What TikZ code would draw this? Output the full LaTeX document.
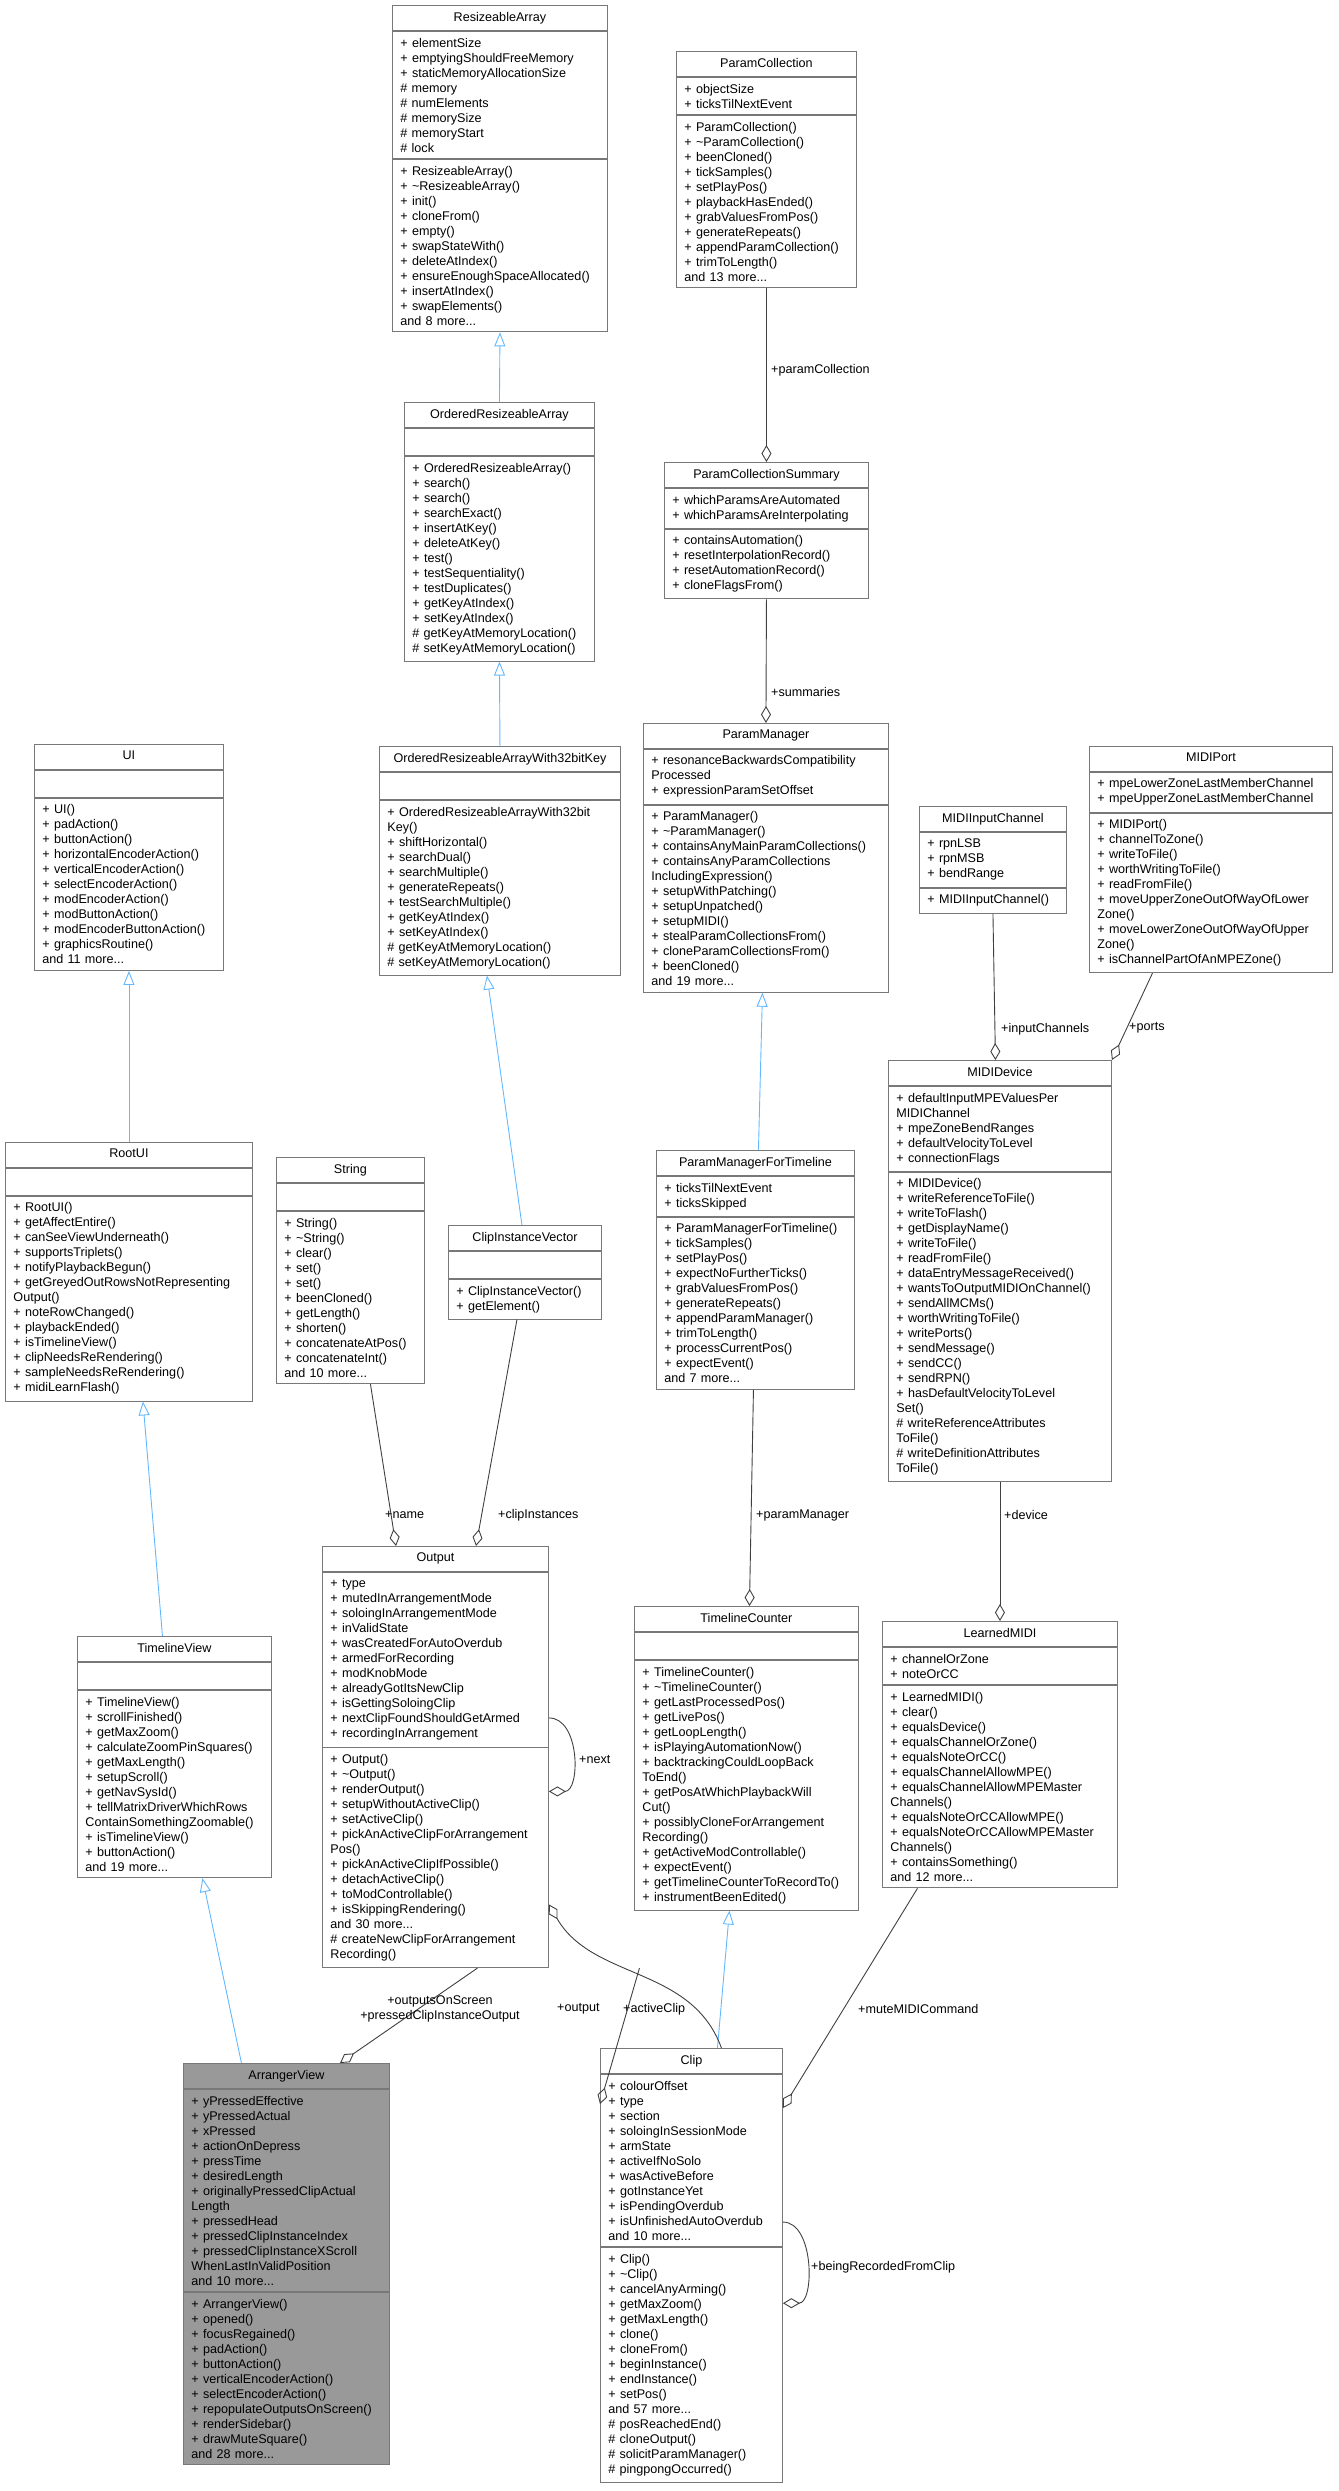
\documentclass[tikz,border=0pt]{standalone}
\usepackage{fontspec}
\setmainfont{Liberation Sans}
\usetikzlibrary{arrows.meta,positioning}

\hyphenpenalty=10000
\exhyphenpenalty=10000

\definecolor{boxline}{RGB}{120,120,120}
\definecolor{edgeline}{RGB}{64,64,64}
\definecolor{inhblue}{RGB}{99,184,255}
\definecolor{focusgray}{RGB}{153,153,153}

\newcommand{\tl}{\textasciitilde}
\newcommand{\none}{\rule{0pt}{11pt}}

% class box: [fill]{name}{left}{top}{width}{title}{attributes}{methods}
\newcommand{\umlclass}[8][white]{%
  \pgfmathsetmacro\tw{#5-16}%
  \node[clsbox,fill=#1,text width=\tw pt,align=center,anchor=north west] (#2) at (#3,#4) {\rule[-3pt]{0pt}{12pt}#6};
  \node[clsbox,fill=#1,text width=\tw pt,align=left,anchor=north] (#2-a) at (#2.south) {\rule[-3pt]{0pt}{12pt}#7};
  \node[clsbox,fill=#1,text width=\tw pt,align=left,anchor=north] (#2-m) at (#2-a.south) {\rule[-3pt]{0pt}{12pt}#8};
}

\tikzset{
  clsbox/.style={draw=boxline,line width=0.9pt,inner xsep=8pt,inner ysep=6.5pt,
    font=\fontsize{12.6}{15}\selectfont},
  inh/.style={draw=inhblue,line width=0.9pt,-{Triangle[open,length=14pt,width=11pt]}},
  agg/.style={draw=edgeline,line width=0.9pt,-{Diamond[open,length=17pt,width=10pt]}},
  elabel/.style={font=\fontsize{12.6}{15}\selectfont,inner sep=1pt,align=center}
}

\begin{document}
\begin{tikzpicture}[x=1pt,y=-1pt]
\useasboundingbox (0,0) rectangle (1338,2491);

% classes
\umlclass{ra}{392}{5}{215}{ResizeableArray}
  {+ elementSize\\+ emptyingShouldFreeMemory\\+ staticMemoryAllocationSize\\\# memory\\\# numElements\\\# memorySize\\\# memoryStart\\\# lock}
  {+ ResizeableArray()\\+ \tl ResizeableArray()\\+ init()\\+ cloneFrom()\\+ empty()\\+ swapStateWith()\\+ deleteAtIndex()\\+ ensureEnoughSpaceAllocated()\\+ insertAtIndex()\\+ swapElements()\\and 8 more...}
\umlclass{ora}{404}{402}{190}{OrderedResizeableArray}
  {\none}
  {+ OrderedResizeableArray()\\+ search()\\+ search()\\+ searchExact()\\+ insertAtKey()\\+ deleteAtKey()\\+ test()\\+ testSequentiality()\\+ testDuplicates()\\+ getKeyAtIndex()\\+ setKeyAtIndex()\\\# getKeyAtMemoryLocation()\\\# setKeyAtMemoryLocation()}
\umlclass{or32}{379}{746}{241}{OrderedResizeableArrayWith32bitKey}
  {\none}
  {+ OrderedResizeableArrayWith32bit\\Key()\\+ shiftHorizontal()\\+ searchDual()\\+ searchMultiple()\\+ generateRepeats()\\+ testSearchMultiple()\\+ getKeyAtIndex()\\+ setKeyAtIndex()\\\# getKeyAtMemoryLocation()\\\# setKeyAtMemoryLocation()}
\umlclass{ui}{34}{744}{189}{UI}
  {\none}
  {+ UI()\\+ padAction()\\+ buttonAction()\\+ horizontalEncoderAction()\\+ verticalEncoderAction()\\+ selectEncoderAction()\\+ modEncoderAction()\\+ modButtonAction()\\+ modEncoderButtonAction()\\+ graphicsRoutine()\\and 11 more...}
\umlclass{rootui}{5}{1142}{247}{RootUI}
  {\none}
  {+ RootUI()\\+ getAffectEntire()\\+ canSeeViewUnderneath()\\+ supportsTriplets()\\+ notifyPlaybackBegun()\\+ getGreyedOutRowsNotRepresenting\\Output()\\+ noteRowChanged()\\+ playbackEnded()\\+ isTimelineView()\\+ clipNeedsReRendering()\\+ sampleNeedsReRendering()\\+ midiLearnFlash()}
\umlclass{tv}{77}{1636}{194}{TimelineView}
  {\none}
  {+ TimelineView()\\+ scrollFinished()\\+ getMaxZoom()\\+ calculateZoomPinSquares()\\+ getMaxLength()\\+ setupScroll()\\+ getNavSysId()\\+ tellMatrixDriverWhichRows\\ContainSomethingZoomable()\\+ isTimelineView()\\+ buttonAction()\\and 19 more...}
\umlclass[focusgray]{av}{183}{2063}{206}{ArrangerView}
  {+ yPressedEffective\\+ yPressedActual\\+ xPressed\\+ actionOnDepress\\+ pressTime\\+ desiredLength\\+ originallyPressedClipActual\\Length\\+ pressedHead\\+ pressedClipInstanceIndex\\+ pressedClipInstanceXScroll\\WhenLastInValidPosition\\and 10 more...}
  {+ ArrangerView()\\+ opened()\\+ focusRegained()\\+ padAction()\\+ buttonAction()\\+ verticalEncoderAction()\\+ selectEncoderAction()\\+ repopulateOutputsOnScreen()\\+ renderSidebar()\\+ drawMuteSquare()\\and 28 more...}
\umlclass{str}{276}{1157}{148}{String}
  {\none}
  {+ String()\\+ \tl String()\\+ clear()\\+ set()\\+ set()\\+ beenCloned()\\+ getLength()\\+ shorten()\\+ concatenateAtPos()\\+ concatenateInt()\\and 10 more...}
\umlclass{civ}{448}{1225}{153}{ClipInstanceVector}
  {\none}
  {+ ClipInstanceVector()\\+ getElement()}
\umlclass{out}{322}{1546}{226}{Output}
  {+ type\\+ mutedInArrangementMode\\+ soloingInArrangementMode\\+ inValidState\\+ wasCreatedForAutoOverdub\\+ armedForRecording\\+ modKnobMode\\+ alreadyGotItsNewClip\\+ isGettingSoloingClip\\+ nextClipFoundShouldGetArmed\\+ recordingInArrangement}
  {+ Output()\\+ \tl Output()\\+ renderOutput()\\+ setupWithoutActiveClip()\\+ setActiveClip()\\+ pickAnActiveClipForArrangement\\Pos()\\+ pickAnActiveClipIfPossible()\\+ detachActiveClip()\\+ toModControllable()\\+ isSkippingRendering()\\and 30 more...\\\# createNewClipForArrangement\\Recording()}
\umlclass{pc}{676}{51}{180}{ParamCollection}
  {+ objectSize\\+ ticksTilNextEvent}
  {+ ParamCollection()\\+ \tl ParamCollection()\\+ beenCloned()\\+ tickSamples()\\+ setPlayPos()\\+ playbackHasEnded()\\+ grabValuesFromPos()\\+ generateRepeats()\\+ appendParamCollection()\\+ trimToLength()\\and 13 more...}
\umlclass{pcs}{664}{462}{204}{ParamCollectionSummary}
  {+ whichParamsAreAutomated\\+ whichParamsAreInterpolating}
  {+ containsAutomation()\\+ resetInterpolationRecord()\\+ resetAutomationRecord()\\+ cloneFlagsFrom()}
\umlclass{pm}{643}{723}{245}{ParamManager}
  {+ resonanceBackwardsCompatibility\\Processed\\+ expressionParamSetOffset}
  {+ ParamManager()\\+ \tl ParamManager()\\+ containsAnyMainParamCollections()\\+ containsAnyParamCollections\\IncludingExpression()\\+ setupWithPatching()\\+ setupUnpatched()\\+ setupMIDI()\\+ stealParamCollectionsFrom()\\+ cloneParamCollectionsFrom()\\+ beenCloned()\\and 19 more...}
\umlclass{pmft}{656}{1150}{198}{ParamManagerForTimeline}
  {+ ticksTilNextEvent\\+ ticksSkipped}
  {+ ParamManagerForTimeline()\\+ tickSamples()\\+ setPlayPos()\\+ expectNoFurtherTicks()\\+ grabValuesFromPos()\\+ generateRepeats()\\+ appendParamManager()\\+ trimToLength()\\+ processCurrentPos()\\+ expectEvent()\\and 7 more...}
\umlclass{tc}{634}{1606}{224}{TimelineCounter}
  {\none}
  {+ TimelineCounter()\\+ \tl TimelineCounter()\\+ getLastProcessedPos()\\+ getLivePos()\\+ getLoopLength()\\+ isPlayingAutomationNow()\\+ backtrackingCouldLoopBack\\ToEnd()\\+ getPosAtWhichPlaybackWill\\Cut()\\+ possiblyCloneForArrangement\\Recording()\\+ getActiveModControllable()\\+ expectEvent()\\+ getTimelineCounterToRecordTo()\\+ instrumentBeenEdited()}
\umlclass{clip}{600}{2048}{182}{Clip}
  {+ colourOffset\\+ type\\+ section\\+ soloingInSessionMode\\+ armState\\+ activeIfNoSolo\\+ wasActiveBefore\\+ gotInstanceYet\\+ isPendingOverdub\\+ isUnfinishedAutoOverdub\\and 10 more...}
  {+ Clip()\\+ \tl Clip()\\+ cancelAnyArming()\\+ getMaxZoom()\\+ getMaxLength()\\+ clone()\\+ cloneFrom()\\+ beginInstance()\\+ endInstance()\\+ setPos()\\and 57 more...\\\# posReachedEnd()\\\# cloneOutput()\\\# solicitParamManager()\\\# pingpongOccurred()}
\umlclass{mic}{919}{806}{147}{MIDIInputChannel}
  {+ rpnLSB\\+ rpnMSB\\+ bendRange}
  {+ MIDIInputChannel()}
\umlclass{mp}{1089}{746}{243}{MIDIPort}
  {+ mpeLowerZoneLastMemberChannel\\+ mpeUpperZoneLastMemberChannel}
  {+ MIDIPort()\\+ channelToZone()\\+ writeToFile()\\+ worthWritingToFile()\\+ readFromFile()\\+ moveUpperZoneOutOfWayOfLower\\Zone()\\+ moveLowerZoneOutOfWayOfUpper\\Zone()\\+ isChannelPartOfAnMPEZone()}
\umlclass{md}{888}{1060}{223}{MIDIDevice}
  {+ defaultInputMPEValuesPer\\MIDIChannel\\+ mpeZoneBendRanges\\+ defaultVelocityToLevel\\+ connectionFlags}
  {+ MIDIDevice()\\+ writeReferenceToFile()\\+ writeToFlash()\\+ getDisplayName()\\+ writeToFile()\\+ readFromFile()\\+ dataEntryMessageReceived()\\+ wantsToOutputMIDIOnChannel()\\+ sendAllMCMs()\\+ worthWritingToFile()\\+ writePorts()\\+ sendMessage()\\+ sendCC()\\+ sendRPN()\\+ hasDefaultVelocityToLevel\\Set()\\\# writeReferenceAttributes\\ToFile()\\\# writeDefinitionAttributes\\ToFile()}
\umlclass{lm}{882}{1621}{235}{LearnedMIDI}
  {+ channelOrZone\\+ noteOrCC}
  {+ LearnedMIDI()\\+ clear()\\+ equalsDevice()\\+ equalsChannelOrZone()\\+ equalsNoteOrCC()\\+ equalsChannelAllowMPE()\\+ equalsChannelAllowMPEMaster\\Channels()\\+ equalsNoteOrCCAllowMPE()\\+ equalsNoteOrCCAllowMPEMaster\\Channels()\\+ containsSomething()\\and 12 more...}

% inheritance
\draw[inh] (ora.north) -- (ra-m.south);
\draw[inh] (or32.north) -- (ora-m.south);
\draw[inh] ([xshift=-3pt]civ.north) -- ([xshift=-13pt]or32-m.south);
\draw[inh] (rootui.north) -- (ui-m.south);
\draw[inh] ([xshift=-12pt]tv.north) -- ([xshift=14pt]rootui-m.south);
\draw[inh] ([xshift=-45pt]av.north) -- ([xshift=28pt]tv-m.south);
\draw[inh] ([xshift=3pt]pmft.north) -- ([xshift=-3.5pt]pm-m.south);
\draw[inh] ([xshift=26pt]clip.north) -- ([xshift=-17pt]tc-m.south);

% usage
\draw[agg] (pc-m.south) -- (pcs.north);
\node[elabel,anchor=west] (lpc) at (770,370) {+paramCollection};
\draw[agg] (pcs-m.south) -- (pm.north);
\node[elabel,anchor=west] (lpcs) at (770,692) {+summaries};
\draw[agg] ([xshift=-2pt]pmft-m.south) -- ([xshift=3pt]tc.north);
\node[elabel,anchor=west] (lpmft) at (755,1515) {+paramManager};
\draw[agg] (mic-m.south) -- ([xshift=-4.5pt]md.north);
\node[elabel,anchor=west] (lmic) at (1000,1029) {+inputChannels};
\draw[agg] ([xshift=-58.5pt]mp-m.south) -- (md.north east);
\node[elabel,anchor=west] (lmp) at (1128,1028) {+ports};
\draw[agg] (md-m.south) -- (lm.north);
\node[elabel,anchor=west] (lmd) at (1003,1515) {+device};
\draw[agg] ([xshift=20pt]str-m.south) -- ([xshift=74pt]out.north west);
\node[elabel,anchor=west] (lstr) at (384,1515) {+name};
\draw[agg] ([xshift=-8pt]civ-m.south) -- ([xshift=154pt]out.north west);
\node[elabel,anchor=west] (lciv) at (497,1515) {+clipInstances};
\draw[agg] ([yshift=-146pt]out-a.north east) to[out=0,in=0,looseness=1.1] ([yshift=-44pt]out-m.north east);
\node[elabel,anchor=west] (lnext) at (578,1759) {+next};
\draw[agg] ([xshift=42pt]out-m.south) -- ([xshift=157pt]av.north west);
\node[elabel] (lav) at (440,2009) {+outputsOnScreen\\+pressedClipInstanceOutput};
\draw[agg] ([xshift=204pt]out-m.south) -- ([yshift=-30pt]clip-a.north west);
\node[elabel,anchor=west] (lout) at (556,2009) {+output};
\draw[agg] ([xshift=30pt]clip.north) to[out=110,in=-60] ([yshift=-157pt]out-m.north east);
\node[elabel,anchor=west] (lact) at (622,2009) {+activeClip};
\draw[agg] ([xshift=-82.5pt]lm-m.south) -- ([yshift=-34pt]clip-a.north east);
\node[elabel,anchor=west] (llm) at (857,2009) {+muteMIDICommand};
\draw[agg] ([yshift=-148pt]clip-a.north east) to[out=0,in=0,looseness=1] ([yshift=-56pt]clip-m.north east);
\node[elabel,anchor=west] (lclip) at (810,2267) {+beingRecordedFromClip};
\end{tikzpicture}
\end{document}
